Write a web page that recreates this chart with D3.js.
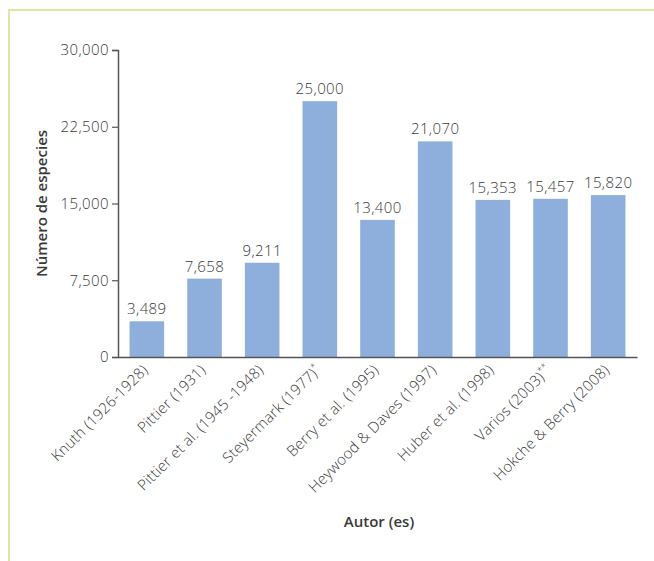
<!DOCTYPE html>
<html>
<head>
<meta charset="utf-8">
<script src="https://cdn.jsdelivr.net/npm/d3@7"></script>
<style>
  body { margin: 0; background: #fff; }
  svg text { font-family: "Open Sans", sans-serif; fill: #3a3a3a; }
</style>
</head>
<body>
<div id="chart"></div>
<script>
// autores y numero de especies
var authors = ["Knuth (1926-1928)", "Pittier (1931)", "Pittier et al. (1945 -1948)",
               "Steyermark (1977)", "Berry et al. (1995)", "Heywood & Daves (1997)",
               "Huber et al. (1998)", "Varios (2003)", "Hokche & Berry (2008)"];
var marks = ["", "", "", "*", "", "", "", "**", ""];
var species = [3489, 7658, 9211, 25000, 13400, 21070, 15353, 15457, 15820];
var yTicks = [0, 7500, 15000, 22500, 30000];

var width = 654, height = 561;
var margin = {top: 50, left: 118, right: 17, bottom: 204};

var svg = d3.select("#chart").append("svg")
    .attr("width", width)
    .attr("height", height);

// marco
svg.append("path")
    .attr("d", "M9," + height + " V10 H" + width)
    .attr("fill", "none")
    .attr("stroke", "#dde7a4")
    .attr("stroke-width", 2);

var x = d3.scaleBand()
    .domain(authors)
    .range([margin.left, width - margin.right])
    .paddingInner(0.4)
    .paddingOuter(0.2);

var y = d3.scaleLinear()
    .domain([0, 30000])
    .range([height - margin.bottom, margin.top]);

var fmt = d3.format(",");

svg.selectAll("rect.bar")
    .data(species)
    .enter().append("rect")
    .attr("class", "bar")
    .attr("x", function(d, i) { return x(authors[i]); })
    .attr("y", function(d) { return y(d); })
    .attr("width", x.bandwidth())
    .attr("height", function(d) { return y(0) - y(d); })
    .attr("fill", "#8eaedb");

svg.selectAll("text.val")
    .data(species)
    .enter().append("text")
    .attr("class", "val")
    .attr("x", function(d, i) { return x(authors[i]) + x.bandwidth() / 2; })
    .attr("y", function(d) { return y(d) - 7; })
    .attr("text-anchor", "middle")
    .style("font-size", "15px")
    .style("font-weight", "300")
    .style("letter-spacing", "0.4px")
    .text(function(d) { return fmt(d); });

// eje y
var yAxis = svg.append("g")
    .attr("transform", "translate(" + margin.left + ",0)")
    .call(d3.axisLeft(y).tickValues(yTicks).tickFormat(fmt).tickSize(6).tickPadding(3));
yAxis.select(".domain").attr("stroke", "#555").attr("stroke-width", 1.5);
yAxis.selectAll(".tick line").attr("stroke", "#555").attr("stroke-width", 1.2);
yAxis.selectAll("text")
    .style("font-size", "15px")
    .style("font-weight", "300")
    .style("letter-spacing", "0.4px")
    .style("font-family", "'Open Sans', sans-serif")
    .attr("fill", "#3a3a3a");

// eje x
var xAxis = svg.append("g")
    .attr("transform", "translate(0," + y(0) + ")")
    .call(d3.axisBottom(x).tickSize(0).tickFormat(""));
xAxis.select(".domain").attr("stroke", "#555").attr("stroke-width", 1.5);

svg.selectAll("text.xlab")
    .data(authors)
    .enter().append("text")
    .attr("class", "xlab")
    .attr("text-anchor", "end")
    .attr("transform", function(d) {
        return "translate(" + (x(d) + x.bandwidth() / 2 + 2) + "," + (y(0) + 14) + ") rotate(-45)";
    })
    .style("font-size", "15px")
    .style("font-weight", "300")
    .style("letter-spacing", "0.2px")
    .each(function(d, i) {
        var t = d3.select(this);
        t.append("tspan").text(d);
        if (marks[i]) {
            t.append("tspan").attr("dy", -6).style("font-size", "9px").text(marks[i]);
        }
    });

// titulos
svg.append("text")
    .attr("transform", "translate(47," + y(15000) + ") rotate(-90)")
    .attr("text-anchor", "middle")
    .style("font-size", "15px")
    .style("font-weight", "600")
    .text("Número de especies");

svg.append("text")
    .attr("x", 379)
    .attr("y", 527)
    .attr("text-anchor", "middle")
    .style("font-size", "15px")
    .style("font-weight", "600")
    .text("Autor (es)");
</script>
</body>
</html>
